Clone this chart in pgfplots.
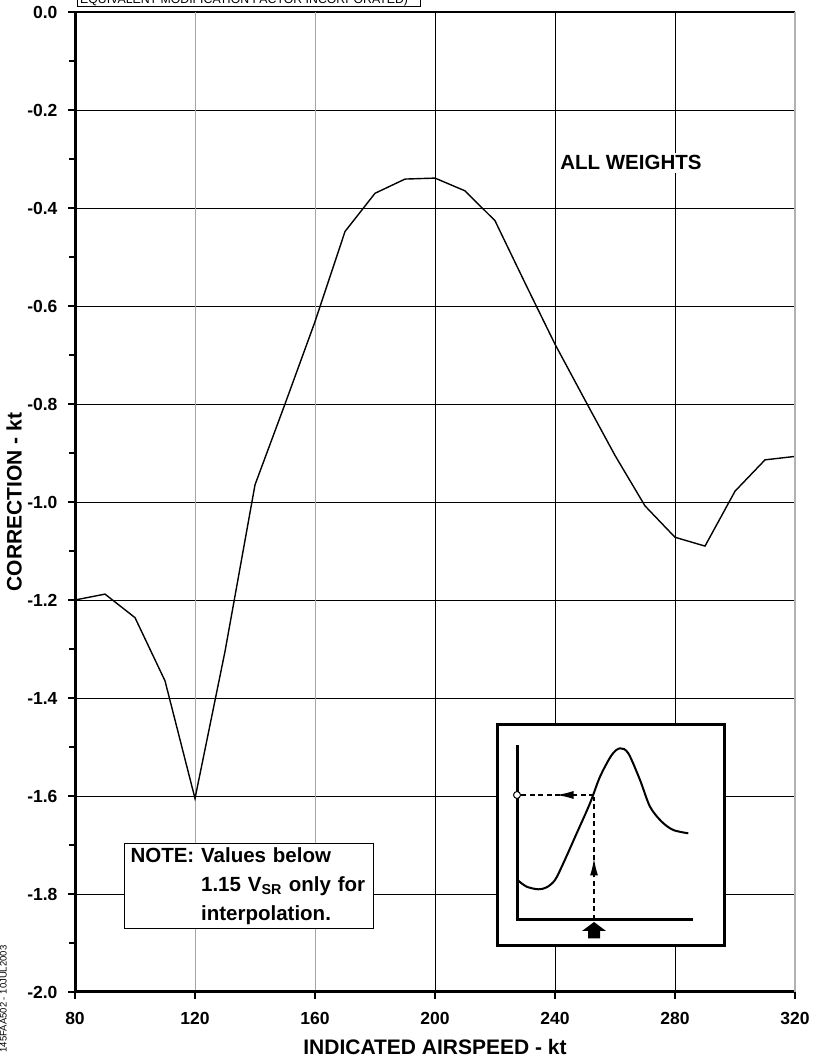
\documentclass[border=0pt]{standalone}
\usepackage{fontspec}
\setmainfont{Liberation Sans}
\usepackage{pgfplots}
\usepackage{pgfplotstable}
\pgfplotsset{compat=1.18}
\usetikzlibrary{arrows.meta,decorations.markings}

\newcommand{\fs}[1]{\fontsize{#1}{#1}\selectfont}

% airspeed correction, all weights
\pgfplotstableread{
ias corr
80  -1.200
90  -1.188
100 -1.236
110 -1.365
120 -1.605
130 -1.305
140 -0.965
150 -0.800
160 -0.632
170 -0.448
180 -0.370
190 -0.341
200 -0.339
210 -0.365
220 -0.426
230 -0.553
240 -0.678
250 -0.792
260 -0.905
270 -1.008
280 -1.072
290 -1.090
300 -0.978
310 -0.914
320 -0.907
}\corrdata

\begin{document}
\begin{tikzpicture}
% header box, cut by the page edge as in the original
\draw[line width=0.8pt] (77pt,1052.5pt) rectangle (420pt,1085pt);
\node[anchor=base west, inner sep=0pt, font=\fs{12.3}] at (80pt,1055pt)
  {EQUIVALENT MODIFICATION FACTOR INCORPORATED)};

\begin{axis}[
  at={(75pt,67pt)}, anchor=south west,
  scale only axis, width=720pt, height=980pt,
  xmin=80, xmax=320, ymin=-2, ymax=0,
  xtick={80,200,240,280,320},
  extra x ticks={120,160},
  extra x tick style={major grid style={gray!70, line width=0.9pt}},
  minor x tick num=1,
  ytick={-2,-1.8,-1.6,-1.4,-1.2,-1,-0.8,-0.6,-0.4,-0.2,0},
  yticklabels={-2.0,-1.8,-1.6,-1.4,-1.2,-1.0,-0.8,-0.6,-0.4,-0.2,0.0},
  minor y tick num=1,
  grid=major,
  major grid style={black, line width=0.9pt},
  tick align=outside, xtick pos=left, ytick pos=left,
  major tick length=7pt, minor tick length=6pt,
  every tick/.style={black, line width=1.3pt},
  axis line style={draw=none},
  /pgf/number format/assume math mode=true,
  ticklabel style={font=\fs{17.5}\bfseries},
  xticklabel style={yshift=-10pt},
  yticklabel style={xshift=-7pt},
  xlabel={INDICATED AIRSPEED - kt},
  ylabel={CORRECTION - kt},
  xlabel style={font=\fs{21}\bfseries, at={(axis description cs:0.5,-0.0561)}, anchor=center},
  ylabel style={font=\fs{21}\bfseries, at={(axis description cs:-0.0847,0.5)}, anchor=center},
  clip=false,
]
\addplot[black, line width=1.4pt] table[x=ias, y=corr] {\corrdata};
\draw[line width=3pt] (rel axis cs:0,1) -- (rel axis cs:0,0) -- (rel axis cs:1,0);
\draw[gray!60, line width=2.5pt] (rel axis cs:1,0) -- (rel axis cs:1,1);
\draw[line width=1pt] (rel axis cs:0,1) -- (rel axis cs:1,1);
\node[fill=white, inner sep=3pt, font=\fs{20.5}\bfseries] at (axis cs:265.3,-0.308) {ALL WEIGHTS};
\end{axis}

% note box
\node[draw, line width=1pt, fill=white, anchor=north west, text width=237pt,
      inner xsep=6pt, minimum height=85pt, align=left,
      font=\fontsize{20.5}{29}\selectfont\bfseries] at (124pt,216pt)
  {NOTE: Values below\\
   \phantom{NOTE: }1.15 V\textsubscript{SR} only for\\
   \phantom{NOTE: }interpolation.};

% inset sketch
\draw[line width=3pt, fill=white] (497.5pt,334.5pt) rectangle (724.5pt,113.5pt);
\begin{axis}[
  at={(496pt,112pt)}, anchor=south west,
  scale only axis, width=230pt, height=224pt,
  xmin=496, xmax=726, ymin=-947, ymax=-723,
  hide axis, clip=false,
]
\draw[line width=3pt] (axis cs:517,-745) -- (axis cs:517,-921.5);
\draw[line width=3pt] (axis cs:515.5,-920) -- (axis cs:693,-920);
\addplot[black, smooth, line width=2pt] coordinates {
  (518.3,-880.7) (526.7,-886.7) (538.3,-889.3) (546.7,-887.3) (555,-880)
  (563.3,-863.3) (576.7,-833.3) (590,-803.3) (600,-776.7) (611.7,-755)
  (620,-748.3) (628.3,-753.3) (640,-780) (650,-806.7) (661.7,-821.7)
  (673.3,-830) (688.3,-833.3)};
\draw[dash pattern=on 5pt off 3.5pt, line width=1.3pt, postaction={decorate},
      decoration={markings, mark=at position 0.5 with {\arrow{Latex[length=17pt,width=8pt]}}}]
  (axis cs:594,-795) -- (axis cs:519,-795);
\draw[dash pattern=on 5pt off 3.5pt, line width=1.3pt, postaction={decorate},
      decoration={markings, mark=at position 0.5 with {\arrow{Latex[length=17pt,width=8pt]}}}]
  (axis cs:594,-920) -- (axis cs:594,-797);
\draw[fill=white, line width=1pt] (axis cs:517,-795) circle[radius=3.5pt];
\fill (axis cs:594,-922) -- (axis cs:582,-931) -- (axis cs:588,-931) -- (axis cs:588,-938.5)
  -- (axis cs:600,-938.5) -- (axis cs:600,-931) -- (axis cs:606,-931) -- cycle;
\end{axis}

% document code at the left margin
\node[rotate=90, anchor=base, inner sep=0pt, font=\fs{9.5}] at (6.5pt,60pt) {145FAA502 - 10JUL2003};

\pgfresetboundingbox
\useasboundingbox (0pt,0pt) rectangle (813pt,1059pt);
\end{tikzpicture}
\end{document}
